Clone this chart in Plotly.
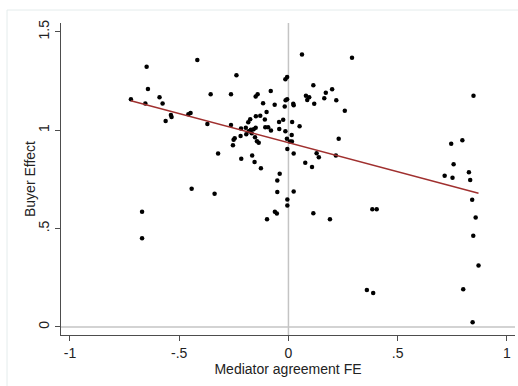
import numpy as np
import plotly.graph_objects as go

mediator_fe = [
    -0.721, -0.655, -0.649, -0.643, -0.590, -0.576, -0.562, -0.538, -0.535, -0.670,
    -0.670, -0.458, -0.448, -0.443, -0.417, -0.371, -0.356, -0.338, -0.322, -0.263,
    -0.263, -0.238, -0.246, -0.251, -0.254, -0.219, -0.217, -0.216, -0.195, -0.193,
    -0.184, -0.182, -0.175, -0.172, -0.168, -0.166, -0.159, -0.155, -0.153, -0.150,
    -0.150, -0.141, -0.149, -0.144, -0.136, -0.129, -0.126, -0.116, -0.108, -0.106,
    -0.100, -0.093, -0.098, -0.081, -0.080, -0.063, -0.062, -0.053, -0.051, -0.051,
    -0.040, -0.043, -0.042, -0.024, -0.017, -0.014, -0.006, -0.013, -0.006, -0.014,
    -0.007, -0.005, -0.005, -0.005, 0.007, 0.016, 0.015, 0.017, 0.022, 0.024,
    0.024, 0.024, 0.051, 0.062, 0.077, 0.080, 0.086, 0.095, 0.108, 0.114,
    0.118, 0.129, 0.139, 0.114, 0.164, 0.171, 0.190, 0.200, 0.219, 0.217,
    0.230, 0.258, 0.291, 0.359, 0.388, 0.384, 0.404, 0.715, 0.745, 0.751,
    0.756, 0.796, 0.800, 0.826, 0.832, 0.841, 0.843, 0.846, 0.847, 0.857,
    0.870,
]
buyer_effect = [
    1.157, 1.136, 1.323, 1.210, 1.168, 1.136, 1.047, 1.077, 1.067, 0.585,
    0.451, 1.081, 1.087, 0.702, 1.357, 1.032, 1.183, 0.677, 0.881, 1.183,
    1.027, 1.280, 0.959, 0.952, 0.924, 0.970, 1.009, 0.855, 1.013, 0.980,
    1.041, 0.995, 1.056, 1.002, 0.985, 0.871, 1.005, 0.839, 0.964, 1.013,
    1.171, 1.183, 1.071, 0.944, 0.936, 1.074, 0.807, 1.137, 1.055, 1.015,
    1.092, 1.015, 0.547, 1.199, 0.998, 1.130, 0.586, 0.576, 0.744, 0.686,
    0.779, 1.042, 1.006, 1.053, 1.120, 1.259, 1.271, 1.152, 1.157, 0.995,
    0.957, 0.904, 0.648, 0.617, 0.942, 0.942, 0.976, 1.042, 1.134, 1.127,
    0.881, 0.688, 1.020, 1.385, 0.835, 1.175, 1.153, 1.168, 0.813, 1.229,
    1.135, 0.883, 0.863, 0.578, 1.163, 1.191, 0.547, 1.208, 1.152, 0.871,
    0.956, 1.099, 1.368, 0.188, 0.173, 0.598, 0.598, 0.768, 0.931, 0.758,
    0.827, 0.949, 0.192, 0.786, 0.747, 0.646, 0.024, 0.464, 1.175, 0.556,
    0.312,
]

x_ticks = [-1, -0.5, 0, 0.5, 1]
x_tick_labels = ["-1", "-.5", "0", ".5", "1"]
y_ticks = [0, 0.5, 1, 1.5]
y_tick_labels = ["0", ".5", "1", "1.5"]

x = np.array(mediator_fe)
y = np.array(buyer_effect)
slope, intercept = np.polyfit(x, y, 1)
fit_x = np.array([x.min(), x.max()])
fit_y = intercept + slope * fit_x

FONT = "Liberation Sans, Arial, sans-serif"
AXIS_COL = "#4d4d4d"

fig = go.Figure()
fig.add_trace(go.Scatter(
    x=mediator_fe, y=buyer_effect, mode="markers",
    marker=dict(color="black", size=4.5, line=dict(width=0)),
    showlegend=False, hoverinfo="skip",
))
fig.add_trace(go.Scatter(
    x=fit_x, y=fit_y, mode="lines",
    line=dict(color="#a0302f", width=1.5),
    showlegend=False, hoverinfo="skip",
))

# reference lines at zero
fig.add_shape(type="line", xref="x", yref="paper", x0=0, x1=0, y0=0, y1=1,
              line=dict(color="#c4c4c4", width=1.5), layer="below")
fig.add_shape(type="line", xref="paper", yref="y", x0=0, x1=1, y0=0, y1=0,
              line=dict(color="#c4c4c4", width=1.5), layer="below")

# outer graph-region border
fig.add_shape(type="rect", xref="paper", yref="paper",
              x0=-54 / 454, x1=1.2, y0=-0.3, y1=1 + 13 / 312,
              line=dict(color="#e4ecec", width=1), fillcolor="rgba(0,0,0,0)")

# y-axis title placed as an annotation to match Stata's spacing
fig.add_annotation(
    text="Buyer Effect", xref="paper", yref="paper",
    x=(30 - 61) / 454, y=0.5, textangle=-90, showarrow=False,
    xanchor="center", yanchor="middle",
    font=dict(size=14, family=FONT, color="#222222"),
)

fig.update_layout(
    width=518, height=386,
    margin=dict(l=61, r=3, t=23, b=51),
    paper_bgcolor="white", plot_bgcolor="white",
    font=dict(family=FONT, size=14, color="#222222"),
    xaxis=dict(
        range=[-1.041, 1.037], tickvals=x_ticks, ticktext=x_tick_labels,
        showgrid=False, zeroline=False, showline=True, linecolor=AXIS_COL,
        linewidth=1.2, ticks="outside", ticklen=5, tickcolor=AXIS_COL,
        tickfont=dict(size=14, family=FONT),
        title=dict(text="Mediator agreement FE", font=dict(size=14, family=FONT), standoff=4),
    ),
    yaxis=dict(
        range=[-0.041, 1.545], tickvals=y_ticks, ticktext=y_tick_labels,
        showgrid=False, zeroline=False, showline=True, linecolor=AXIS_COL,
        linewidth=1.2, ticks="outside", ticklen=5, tickcolor=AXIS_COL,
        tickangle=-90, tickfont=dict(size=14, family=FONT),
    ),
)

fig.write_html("out.html")
